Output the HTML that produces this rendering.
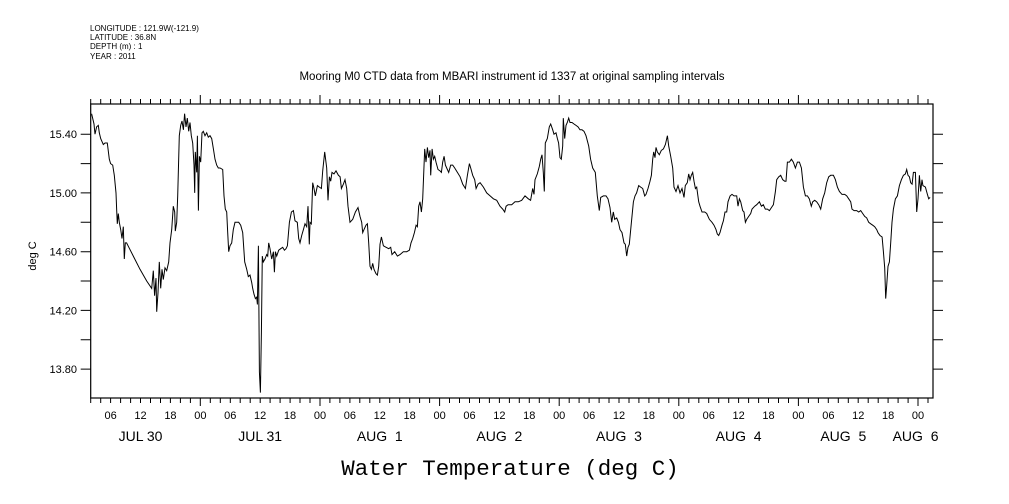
<!DOCTYPE html>
<html><head><meta charset="utf-8"><style>
html,body{margin:0;padding:0;background:#fff;}
svg{display:block;font-family:"Liberation Sans",sans-serif;}
</style></head><body>
<svg id="chart" width="1009" height="504" viewBox="0 0 1009 504" xmlns="http://www.w3.org/2000/svg">
<g font-size="8" fill="#000">
<text x="90" y="31">LONGITUDE : 121.9W(-121.9)</text>
<text x="90" y="40">LATITUDE : 36.8N</text>
<text x="90" y="49">DEPTH (m) : 1</text>
<text x="90" y="59">YEAR : 2011</text>
</g>
<text x="512" y="80" text-anchor="middle" font-size="11.5">Mooring M0 CTD data from MBARI instrument id 1337 at original sampling intervals</text>
<text x="0" y="0" transform="translate(36,256) rotate(-90)" text-anchor="middle" font-size="11">deg C</text>
<text x="510" y="475" text-anchor="middle" font-size="22.5" font-family="Liberation Mono, monospace">Water Temperature (deg C)</text>
<g id="axes"></g>
<g id="plot"></g>
</svg>
<script>
const hours=[2.19,2.66,2.86,3.19,3.53,3.73,4.00,4.26,4.53,4.87,5.34,5.74,6.00,6.41,6.74,7.07,7.21,7.34,7.54,7.74,8.01,8.28,8.55,8.75,8.95,9.21,10.55,11.89,13.23,14.23,14.57,14.83,15.10,15.24,15.50,15.77,16.04,16.31,16.57,16.91,17.24,17.64,17.91,18.25,18.58,18.85,18.98,19.25,19.45,19.78,20.05,20.32,20.59,20.85,21.12,21.39,21.66,21.92,22.19,22.46,22.73,22.86,22.99,23.26,23.40,23.60,23.80,24.07,24.33,24.60,24.93,25.27,25.60,25.94,26.27,26.61,26.94,27.28,27.61,27.94,28.48,28.75,29.01,29.28,29.48,29.68,29.95,30.29,30.62,30.96,31.29,31.69,32.09,32.49,32.89,33.30,33.63,33.96,34.30,34.50,34.77,35.04,35.30,35.44,35.64,35.84,36.04,36.24,36.44,36.64,36.98,37.31,37.51,37.71,37.98,38.31,38.65,38.85,39.05,39.32,39.72,40.12,40.52,40.86,41.19,41.46,41.86,42.26,42.66,42.99,43.46,43.73,44.00,44.33,44.67,45.00,45.34,45.60,45.87,46.00,46.27,46.54,46.81,47.07,47.48,47.88,48.28,48.55,48.95,49.35,49.62,49.89,50.15,50.42,50.82,51.22,51.69,52.03,52.30,52.70,53.03,53.36,53.63,54.03,54.57,55.10,55.64,56.04,56.37,56.57,56.84,57.24,57.51,57.78,58.04,58.31,58.58,58.85,59.25,59.52,59.78,60.05,60.32,60.72,61.26,61.79,62.19,62.46,62.99,63.53,64.06,64.73,65.40,65.94,66.27,66.61,66.94,67.28,67.54,67.81,68.08,68.35,68.61,69.01,69.28,69.55,69.82,70.08,70.22,70.49,70.75,71.02,71.29,71.69,72.09,72.36,72.63,72.90,73.16,73.43,73.83,74.23,74.63,75.03,75.57,76.11,76.64,77.18,77.58,77.98,78.25,78.65,79.05,79.32,79.72,80.12,80.79,81.46,82.13,82.79,83.46,84.13,84.67,85.07,85.34,85.74,86.46,87.13,87.80,88.47,89.14,89.81,90.27,90.68,90.94,91.14,91.61,92.01,92.28,92.55,92.82,93.02,93.22,93.62,94.02,94.29,94.69,94.96,95.36,95.63,95.89,96.16,96.43,96.70,96.83,97.10,97.36,97.63,97.90,98.17,98.57,98.97,99.37,99.77,100.17,100.58,100.98,101.38,101.91,102.31,102.72,103.25,103.65,104.05,104.32,104.86,105.39,105.79,106.19,106.53,106.86,107.13,107.53,107.87,108.20,108.60,109.00,109.27,109.54,109.81,110.07,110.48,110.88,111.21,111.54,111.95,112.35,112.75,113.15,113.42,113.82,114.22,114.49,114.76,114.96,115.22,115.42,115.69,116.09,116.49,116.90,117.30,117.70,117.97,118.37,118.77,119.04,119.44,119.84,120.24,120.64,121.04,121.31,121.71,121.98,122.25,122.51,122.78,123.05,123.32,123.59,123.99,124.25,124.66,125.19,125.59,126.13,126.66,127.06,127.47,127.73,128.00,128.27,128.67,128.94,129.27,129.61,129.87,130.28,130.68,131.08,131.61,131.88,132.15,132.42,132.82,133.08,133.35,133.62,134.02,134.42,134.69,135.22,135.62,136.16,136.56,136.96,137.36,137.77,138.17,138.57,138.97,139.37,139.64,140.04,140.44,140.84,141.24,141.51,141.78,142.18,142.58,142.98,143.39,143.79,144.19,144.59,144.99,145.39,145.79,146.19,146.59,146.86,147.26,147.67,148.07,148.47,148.87,149.27,149.67,150.07,150.48,151.01,151.41,151.81,152.21,152.75,153.28,153.68,154.09,154.49,154.75,155.16,155.69,156.09,156.49,156.90,157.30,157.70,158.10,158.50,158.90,159.30,159.71,159.97,160.37,160.78,161.04,161.31,161.51,161.71,161.98,162.25,162.52,162.78,163.05,163.45,163.85,164.25,164.66,165.06,165.46,165.73,165.99,166.26,166.53,166.80,167.06,167.46,167.73,168.00,168.27,168.54,168.80,168.97,169.47,169.87,170.14,170.41];
const temps=[15.54,15.47,15.40,15.45,15.46,15.41,15.37,15.35,15.33,15.34,15.34,15.23,15.20,15.19,15.12,15.00,14.88,14.79,14.86,14.80,14.75,14.69,14.77,14.55,14.66,14.66,14.57,14.48,14.40,14.35,14.47,14.30,14.42,14.19,14.32,14.53,14.35,14.48,14.41,14.49,14.47,14.53,14.66,14.75,14.91,14.87,14.74,14.80,14.98,15.39,15.46,15.49,15.43,15.54,15.45,15.51,15.42,15.48,15.39,15.34,15.19,15.00,15.28,15.14,15.39,14.88,15.25,15.21,15.41,15.42,15.39,15.41,15.38,15.39,15.37,15.30,15.23,15.19,15.17,15.17,15.16,14.98,14.89,14.87,14.73,14.60,14.64,14.66,14.75,14.80,14.80,14.80,14.78,14.73,14.53,14.48,14.43,14.44,14.39,14.35,14.31,14.28,14.29,14.24,14.64,13.78,13.64,14.05,14.57,14.53,14.55,14.58,14.57,14.66,14.62,14.55,14.60,14.46,14.60,14.57,14.61,14.62,14.63,14.61,14.62,14.64,14.80,14.87,14.88,14.81,14.80,14.69,14.66,14.71,14.75,14.79,14.77,14.91,14.65,14.80,14.79,15.07,15.03,14.98,15.05,15.04,15.03,15.15,15.28,15.17,14.95,15.11,15.08,15.14,15.13,15.15,15.12,15.11,15.03,15.06,15.09,15.03,14.91,14.80,14.82,14.87,14.90,14.84,14.80,14.73,14.75,14.78,14.79,14.66,14.50,14.48,14.52,14.48,14.45,14.44,14.50,14.65,14.70,14.64,14.63,14.62,14.63,14.58,14.60,14.57,14.58,14.60,14.60,14.61,14.66,14.69,14.73,14.78,14.77,14.91,14.94,14.87,14.96,15.30,15.21,15.31,15.24,15.29,15.12,15.30,15.23,15.25,15.21,15.16,15.15,15.14,15.21,15.25,15.19,15.17,15.14,15.19,15.19,15.17,15.14,15.11,15.06,15.03,15.12,15.20,15.17,15.12,15.09,15.03,15.06,15.07,15.04,15.00,14.98,14.96,14.95,14.91,14.89,14.87,14.91,14.92,14.92,14.94,14.94,14.95,14.98,14.96,14.95,15.03,14.99,15.09,15.13,15.18,15.23,15.26,15.14,15.01,15.34,15.37,15.45,15.47,15.43,15.40,15.41,15.37,15.34,15.24,15.23,15.32,15.51,15.37,15.46,15.48,15.51,15.48,15.48,15.47,15.46,15.45,15.43,15.43,15.42,15.39,15.32,15.23,15.17,15.14,14.98,14.88,14.97,14.98,14.98,14.96,14.90,14.80,14.87,14.82,14.83,14.80,14.75,14.73,14.66,14.65,14.57,14.63,14.65,14.80,14.94,14.98,15.00,15.05,15.04,15.03,14.98,14.99,15.03,15.08,15.12,15.23,15.28,15.24,15.31,15.28,15.26,15.29,15.30,15.33,15.39,15.32,15.25,15.17,15.04,15.01,15.05,15.00,15.03,14.97,15.05,15.07,15.13,15.09,15.12,15.14,15.08,15.03,15.04,14.94,14.91,14.87,14.87,14.86,14.82,14.80,14.78,14.75,14.72,14.71,14.73,14.78,14.81,14.87,14.87,14.94,14.98,14.99,14.98,14.98,14.91,14.96,14.94,14.88,14.87,14.80,14.82,14.84,14.86,14.89,14.91,14.92,14.94,14.91,14.92,14.89,14.89,14.88,14.90,14.92,15.01,15.09,15.11,15.12,15.09,15.08,15.08,15.21,15.21,15.23,15.21,15.17,15.21,15.21,15.17,15.04,14.98,14.98,14.96,14.91,14.94,14.95,14.94,14.92,14.89,14.96,15.00,15.07,15.11,15.12,15.12,15.09,15.04,15.01,14.99,14.99,14.98,14.96,14.94,14.89,14.88,14.88,14.87,14.88,14.86,14.84,14.83,14.80,14.79,14.78,14.77,14.75,14.73,14.71,14.70,14.60,14.49,14.28,14.37,14.50,14.53,14.66,14.80,14.89,14.96,14.98,15.05,15.09,15.12,15.13,15.16,15.12,15.11,15.07,15.06,15.14,15.14,14.87,14.96,15.12,15.01,15.09,15.05,15.04,14.99,14.96,14.97];
const yTickValues=[13.80,14.00,14.20,14.40,14.60,14.80,15.00,15.20,15.40];
const yTickLabels=["13.80","","14.20","","14.60","","15.00","","15.40"];
const hourLabels=["06","12","18","00"];
const dayLabels=["JUL 30","JUL 31","AUG  1","AUG  2","AUG  3","AUG  4","AUG  5","AUG  6"];
const dayLabelHours=[12,36,60,84,108,132,153,167.5];

const NS="http://www.w3.org/2000/svg";
const L=90.7,R=933,T=104,B=398;
const X0=2,X1=171,Y0=13.603,Y1=15.606;
const xs=t=>L+(t-X0)/(X1-X0)*(R-L);
const ys=v=>B-(v-Y0)/(Y1-Y0)*(B-T);
const axes=document.getElementById('axes');
const plot=document.getElementById('plot');
function mk(tag,attrs,parent){const e=document.createElementNS(NS,tag);for(const k in attrs)e.setAttribute(k,attrs[k]);parent.appendChild(e);return e;}

const frame=mk('rect',{x:L,y:T,width:R-L,height:B-T,fill:'none',stroke:'#000','stroke-width':1.2},axes);



let tp='';
for(let h=2;h<=170;h+=2){
  const x=xs(h).toFixed(1);const major=(h%24===0);
  tp+=`M${x} ${T}V${T-(major?9:5)}M${x} ${B}V${B+(major?8:5)}`;
}
const xt=mk('path',{d:tp,stroke:'#000','stroke-width':1,fill:'none'},axes);



let yp='';
yTickValues.forEach(v=>{const y=ys(v).toFixed(1);yp+=`M${L} ${y}H${L-10}M${R} ${y}H${R+10}`;});
const yt=mk('path',{d:yp,stroke:'#000','stroke-width':1,fill:'none'},axes);



yTickValues.forEach((v,i)=>{
  if(!yTickLabels[i])return;
  const t=mk('text',{x:77,y:ys(v)+4,'text-anchor':'end','font-size':11},axes);
  t.textContent=yTickLabels[i];
  
  
});
for(let h=6;h<=168;h+=6){
  const t=mk('text',{x:xs(h),y:419,'text-anchor':'middle','font-size':11},axes);
  t.textContent=hourLabels[(h/6-1)%4];
  
  
}
dayLabels.forEach((d,i)=>{
  const t=mk('text',{x:xs(dayLabelHours[i]),y:441,'text-anchor':'middle','font-size':14},axes);
  t.style.whiteSpace='pre';
  t.textContent=d;
  
  
});

let d='';
hours.forEach((h,i)=>{d+=(i?'L':'M')+xs(h).toFixed(1)+' '+ys(temps[i]).toFixed(1);});
const line=mk('path',{d:d,fill:'none',stroke:'#000','stroke-width':1},plot);


</script>
</body></html>
